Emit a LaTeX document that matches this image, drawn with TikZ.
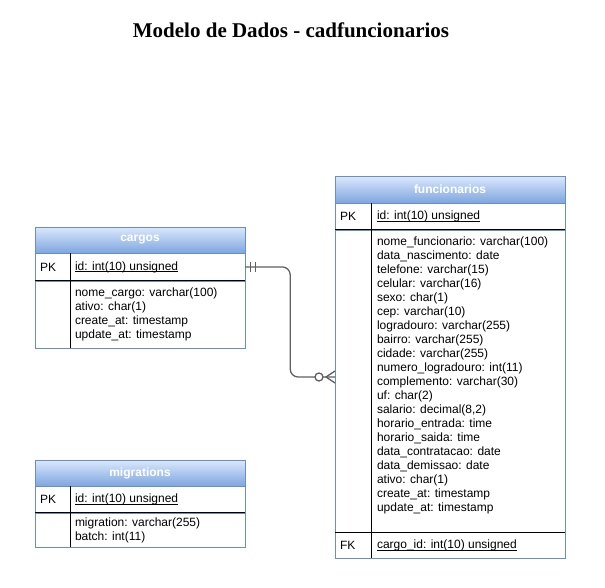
\documentclass[tikz,border=0pt]{standalone}
\usepackage{fontspec}
\setmainfont{Liberation Sans}
\newfontfamily\titlefont{Liberation Serif}
\definecolor{erBorder}{RGB}{108,142,191}
\definecolor{erTop}{RGB}{218,232,252}
\definecolor{erBottom}{RGB}{126,166,224}
\definecolor{erLink}{RGB}{96,96,96}
\usetikzlibrary{arrows.meta,positioning}
\newsavebox{\keyfieldbox}
\newcommand{\keyfield}[1]{\sbox{\keyfieldbox}{#1}\rlap{\raisebox{-2pt}{\rule{\wd\keyfieldbox}{0.6pt}}}\usebox{\keyfieldbox}}

\begin{document}
\begin{tikzpicture}[x=1pt, y=-1pt,
    tblhead/.style={draw=erBorder, top color=erTop, bottom color=erBottom, text=white, inner sep=0pt, font=\fontsize{12}{14}\selectfont\bfseries},
    tblrow/.style={draw=erBorder, fill=white, inner sep=0pt},
    keytxt/.style={anchor=west, inner sep=0pt, font=\fontsize{12}{14}\selectfont},
    fieldtxt/.style={anchor=north west, align=left, inner sep=0pt, font=\fontsize{12}{14}\selectfont},
    keyline/.style={draw=black, line width=0.8pt},
    relline/.style={draw=erLink, line width=1.3pt}]
    \useasboundingbox (0,0) rectangle (605,587);

    \node[font=\titlefont\fontsize{21}{25}\selectfont\bfseries] (title) at (291,30) {Modelo de Dados - cadfuncionarios};

    % cargos
    \node[tblhead, minimum width=210, minimum height=26] (cargoshd) at (140,240) {cargos};
    \node[tblrow, minimum width=210, minimum height=27, below=0pt of cargoshd] (cargospk) {};
    \node[tblrow, minimum width=210, minimum height=67, below=0pt of cargospk] (cargosbody) {};
    \draw[keyline] (cargospk.south west) -- (cargospk.south east);
    \draw[keyline] ([xshift=36]cargospk.north west) -- ([xshift=36]cargosbody.south west);
    \node[keytxt] (cargospktag) at ([xshift=5]cargospk.west) {PK};
    \node[keytxt] (cargosid) at ([xshift=40]cargospk.west) {\keyfield{id: int(10) unsigned}};
    \node[fieldtxt] (cargosfields) at ([xshift=40, yshift=-7]cargosbody.north west) {nome\_cargo: varchar(100)\\ativo: char(1)\\create\_at: timestamp\\update\_at: timestamp};

    % migrations
    \node[tblhead, minimum width=210, minimum height=26] (mighd) at (140,473) {migrations};
    \node[tblrow, minimum width=210, minimum height=26, below=0pt of mighd] (migpk) {};
    \node[tblrow, minimum width=210, minimum height=34, below=0pt of migpk] (migbody) {};
    \draw[keyline] (migpk.south west) -- (migpk.south east);
    \draw[keyline] ([xshift=36]migpk.north west) -- ([xshift=36]migbody.south west);
    \node[keytxt] (migpktag) at ([xshift=5]migpk.west) {PK};
    \node[keytxt] (migid) at ([xshift=40]migpk.west) {\keyfield{id: int(10) unsigned}};
    \node[fieldtxt] (migfields) at ([xshift=40, yshift=-5]migbody.north west) {migration: varchar(255)\\batch: int(11)};

    % funcionarios
    \node[tblhead, minimum width=230, minimum height=27] (funchd) at (450,189.5) {funcionarios};
    \node[tblrow, minimum width=230, minimum height=26, below=0pt of funchd] (funcpk) {};
    \node[tblrow, minimum width=230, minimum height=302, below=0pt of funcpk] (funcbody) {};
    \node[tblrow, minimum width=230, minimum height=26, below=0pt of funcbody] (funcfk) {};
    \draw[keyline] (funcpk.south west) -- (funcpk.south east);
    \draw[keyline] (funcfk.north west) -- (funcfk.north east);
    \draw[keyline] ([xshift=37]funcpk.north west) -- ([xshift=37]funcfk.south west);
    \node[keytxt] (funcpktag) at ([xshift=5]funcpk.west) {PK};
    \node[keytxt] (funcid) at ([xshift=42]funcpk.west) {\keyfield{id: int(10) unsigned}};
    \node[fieldtxt] (funcfields) at ([xshift=42, yshift=-7]funcbody.north west) {nome\_funcionario: varchar(100)\\data\_nascimento: date\\telefone: varchar(15)\\celular: varchar(16)\\sexo: char(1)\\cep: varchar(10)\\logradouro: varchar(255)\\bairro: varchar(255)\\cidade: varchar(255)\\numero\_logradouro: int(11)\\complemento: varchar(30)\\uf: char(2)\\salario: decimal(8,2)\\horario\_entrada: time\\horario\_saida: time\\data\_contratacao: date\\data\_demissao: date\\ativo: char(1)\\create\_at: timestamp\\update\_at: timestamp};
    \node[keytxt] (funcfktag) at ([xshift=5]funcfk.west) {FK};
    \node[keytxt] (funccargo) at ([xshift=42]funcfk.west) {\keyfield{cargo\_id: int(10) unsigned}};

    % relacao cargos -> funcionarios
    \coordinate (fkin) at (335,377);
    \draw[relline, rounded corners=8pt] (cargospk.east) -- ++(45,0) |- (fkin);
    \draw[relline] (cargospk.east) ++(5,-5) -- ++(0,10) ++(5,0) -- ++(0,-10);
    \draw[relline] (fkin) ++(0,6) -- ++(-9,-6) -- ++(9,-6);
    \draw[relline, fill=white] (fkin) ++(-16,0) circle (4);
\end{tikzpicture}
\end{document}
